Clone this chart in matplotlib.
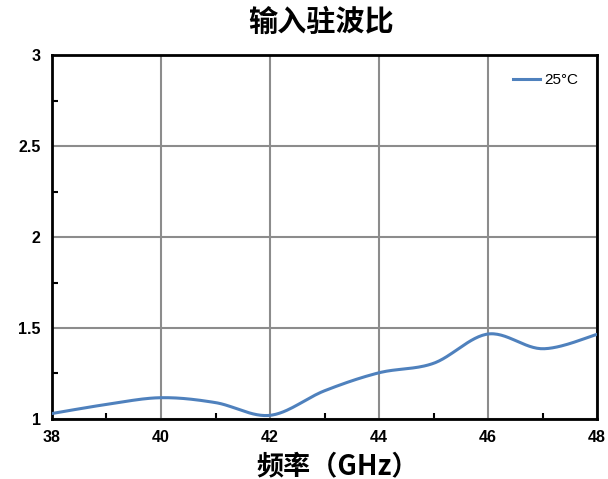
import numpy as np
import matplotlib.pyplot as plt
from matplotlib.ticker import MultipleLocator

plt.rcParams['font.family'] = ['Noto Sans CJK SC', 'DejaVu Sans']

freq = [38, 39, 40, 41, 42, 43, 44, 45, 46, 47, 48]
vswr = [1.03, 1.08, 1.117, 1.09, 1.02, 1.155, 1.254, 1.306, 1.467, 1.386, 1.465]


def smooth_curve(x, y, n=30):
    """Excel-style smoothed line: cubic Bezier segments through the points."""
    x = np.asarray(x, float)
    y = np.asarray(y, float)
    px = np.concatenate([[x[0]], x, [x[-1]]])
    py = np.concatenate([[y[0]], y, [y[-1]]])
    xs, ys = [], []
    t = np.linspace(0, 1, n)
    for i in range(1, len(px) - 2):
        p0 = np.array([px[i], py[i]])
        p3 = np.array([px[i + 1], py[i + 1]])
        p1 = p0 + (np.array([px[i + 1], py[i + 1]]) - np.array([px[i - 1], py[i - 1]])) / 6
        p2 = p3 - (np.array([px[i + 2], py[i + 2]]) - np.array([px[i], py[i]])) / 6
        b = (((1 - t) ** 3)[:, None] * p0 + (3 * (1 - t) ** 2 * t)[:, None] * p1
             + (3 * (1 - t) * t ** 2)[:, None] * p2 + (t ** 3)[:, None] * p3)
        xs.extend(b[:, 0])
        ys.extend(b[:, 1])
    return xs, ys


fig = plt.figure(figsize=(6.08, 4.79), dpi=100)
ax = fig.add_axes([0.0855, 0.1253, 0.8965, 0.7597])

sx, sy = smooth_curve(freq, vswr)
ax.plot(sx, sy, color='#4F81BD', linewidth=2.2, label='25°C', zorder=3)

ax.set_xlim(38, 48)
ax.set_ylim(1, 3)
ax.set_xticks([38, 40, 42, 44, 46, 48])
ax.set_yticks([1, 1.5, 2, 2.5, 3])
ax.set_yticklabels(['1', '1.5', '2', '2.5', '3'])
ax.xaxis.set_minor_locator(MultipleLocator(1))
ax.yaxis.set_minor_locator(MultipleLocator(0.25))
ax.tick_params(which='major', length=0, labelsize=11.5, pad=8)
ax.tick_params(which='minor', direction='in', length=4, width=1.5, color='black')
for lbl in ax.get_xticklabels() + ax.get_yticklabels():
    lbl.set_fontweight('bold')
    lbl.set_family(['Liberation Sans', 'DejaVu Sans'])
ax.grid(True, which='major', color='#8c8c8c', linewidth=1.5)

for side in ['left', 'bottom', 'top', 'right']:
    ax.spines[side].set_linewidth(2)
    ax.spines[side].set_color('black')

fig.text(0.528, 0.954, '输入驻波比', fontsize=21, fontweight='bold',
         ha='center', va='center')
fig.text(0.555, 0.027, '频率（GHz）', fontsize=19.5, fontweight='bold',
         ha='center', va='center')

leg = ax.legend(loc='upper right', frameon=False, handlelength=1.8,
                borderaxespad=0.8, handletextpad=0.3,
                prop={'family': ['Liberation Sans', 'DejaVu Sans'], 'size': 11})

fig.savefig('out.png', dpi=100)
